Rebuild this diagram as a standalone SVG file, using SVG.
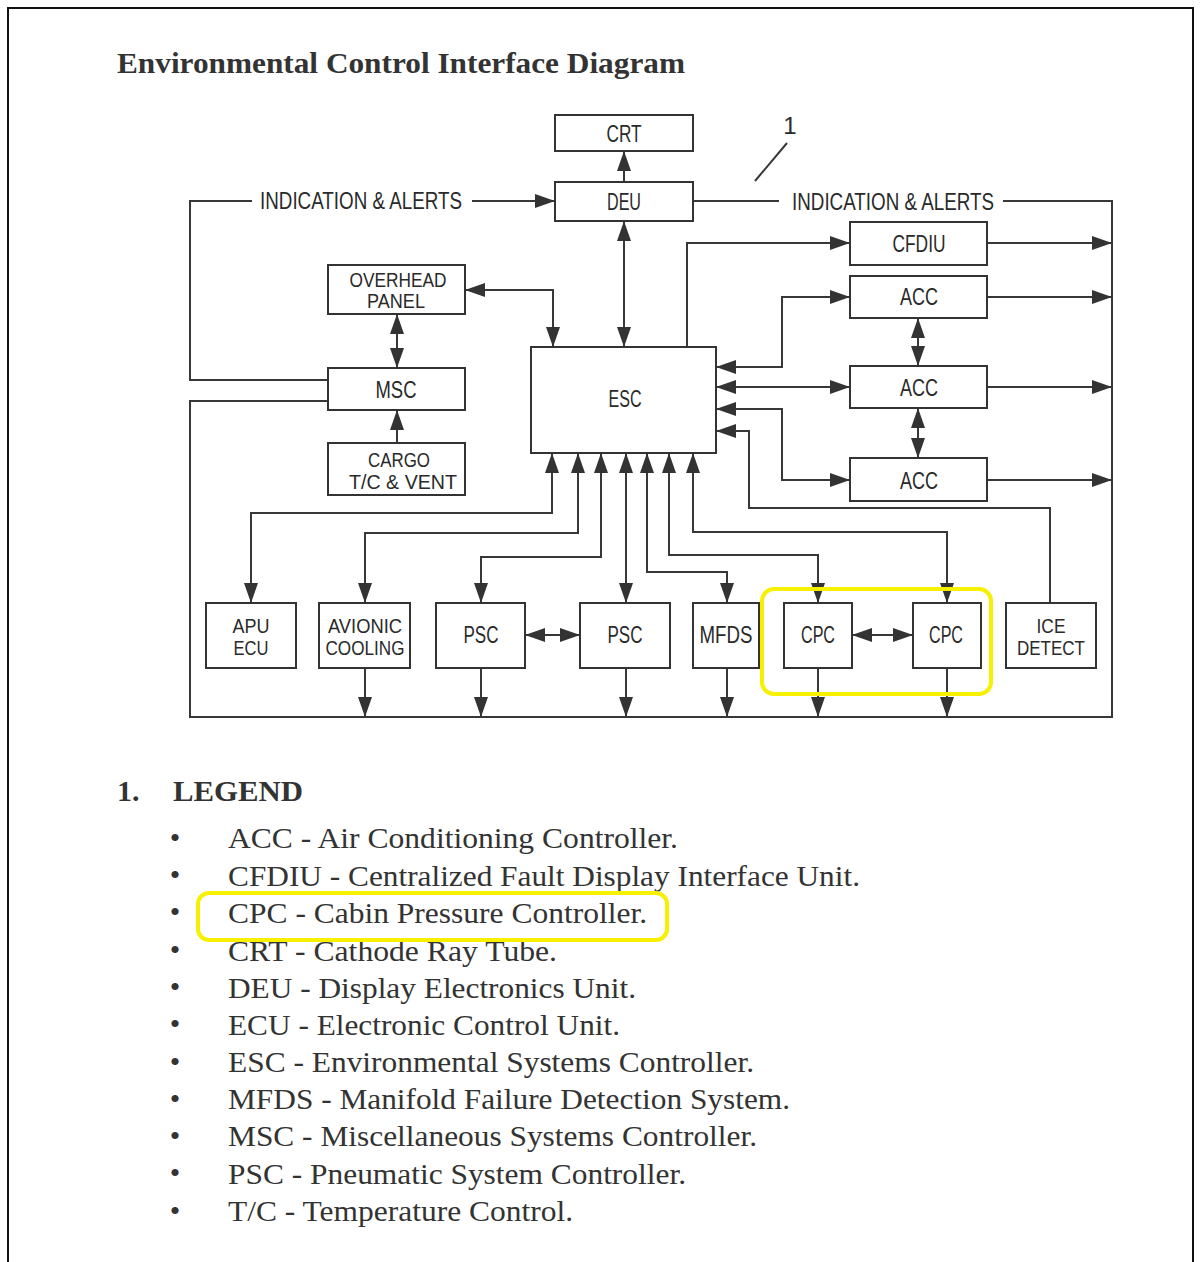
<svg xmlns="http://www.w3.org/2000/svg" width="1202" height="1262" viewBox="0 0 1202 1262">
<style>
.bg{fill:#ffffff}
.frame{fill:none;stroke:#111;stroke-width:2}
.box{fill:#ffffff;stroke:#333;stroke-width:2}
.ln{fill:none;stroke:#383838;stroke-width:2}
.lbl{font-family:"Liberation Sans",Arial,sans-serif;font-size:24px;fill:#2a2a2a;text-anchor:middle}
.two{font-size:21px}
.lbs{font-family:"Liberation Sans",Arial,sans-serif;font-size:24px;fill:#2a2a2a}
.title{font-family:"Liberation Serif","Times New Roman",serif;font-weight:bold;font-size:30px;fill:#333}
.leg{font-family:"Liberation Serif","Times New Roman",serif;font-size:30px;fill:#333}
.hl{fill:none;stroke:#F7F000;stroke-width:4}
</style>
<defs>
<marker id="ah" viewBox="0 0 20 14" refX="20" refY="7" markerWidth="20" markerHeight="14" markerUnits="userSpaceOnUse" orient="auto-start-reverse">
<path d="M0,0 L20,7 L0,14 z" fill="#333"/>
</marker>
</defs>
<rect class="bg" x="0" y="0" width="1202" height="1262"/>
<path class="frame" d="M8,1262 V8 H1193 V1262"/>
<text class="title" x="117" y="73" textLength="568" lengthAdjust="spacingAndGlyphs">Environmental Control Interface Diagram</text>

<g id="connectors">
<path class="ln" d="M624,182 V151" marker-end="url(#ah)"/>
<path class="ln" d="M328,380 H190 V201 H252"/>
<path class="ln" d="M472,201 H555" marker-end="url(#ah)"/>
<path class="ln" d="M328,401 H190 V717 H1112 V201 H1003"/>
<path class="ln" d="M693,201 H779"/>
<path class="ln" d="M755,181 L787,143"/>
<path class="ln" d="M624,221 V347" marker-start="url(#ah)" marker-end="url(#ah)"/>
<path class="ln" d="M553,347 V290 H465" marker-start="url(#ah)" marker-end="url(#ah)"/>
<path class="ln" d="M397,314 V368" marker-start="url(#ah)" marker-end="url(#ah)"/>
<path class="ln" d="M397,443 V410" marker-end="url(#ah)"/>
<path class="ln" d="M687,347 V243 H850" marker-end="url(#ah)"/>
<path class="ln" d="M716,367 H782 V297 H850" marker-start="url(#ah)" marker-end="url(#ah)"/>
<path class="ln" d="M716,387 H850" marker-start="url(#ah)" marker-end="url(#ah)"/>
<path class="ln" d="M716,409 H782 V480 H850" marker-start="url(#ah)" marker-end="url(#ah)"/>
<path class="ln" d="M1050,603 V508 H749 V431 H716" marker-end="url(#ah)"/>
<path class="ln" d="M918,318 V366" marker-start="url(#ah)" marker-end="url(#ah)"/>
<path class="ln" d="M918,408 V458" marker-start="url(#ah)" marker-end="url(#ah)"/>
<path class="ln" d="M987,243 H1112" marker-end="url(#ah)"/>
<path class="ln" d="M987,297 H1112" marker-end="url(#ah)"/>
<path class="ln" d="M987,387 H1112" marker-end="url(#ah)"/>
<path class="ln" d="M987,480 H1112" marker-end="url(#ah)"/>
<path class="ln" d="M552,453 V513 H251 V603" marker-start="url(#ah)" marker-end="url(#ah)"/>
<path class="ln" d="M578,453 V533 H365 V603" marker-start="url(#ah)" marker-end="url(#ah)"/>
<path class="ln" d="M601,453 V557 H481 V603" marker-start="url(#ah)" marker-end="url(#ah)"/>
<path class="ln" d="M626,453 V603" marker-start="url(#ah)" marker-end="url(#ah)"/>
<path class="ln" d="M647,453 V572 H727 V603" marker-start="url(#ah)" marker-end="url(#ah)"/>
<path class="ln" d="M669,453 V555 H818 V603" marker-start="url(#ah)" marker-end="url(#ah)"/>
<path class="ln" d="M693,453 V532 H947 V603" marker-start="url(#ah)" marker-end="url(#ah)"/>
<path class="ln" d="M525,635 H580" marker-start="url(#ah)" marker-end="url(#ah)"/>
<path class="ln" d="M852,635 H913" marker-start="url(#ah)" marker-end="url(#ah)"/>
<path class="ln" d="M365,668 V717" marker-end="url(#ah)"/>
<path class="ln" d="M481,668 V717" marker-end="url(#ah)"/>
<path class="ln" d="M626,668 V717" marker-end="url(#ah)"/>
<path class="ln" d="M727,668 V717" marker-end="url(#ah)"/>
<path class="ln" d="M818,668 V717" marker-end="url(#ah)"/>
<path class="ln" d="M947,668 V717" marker-end="url(#ah)"/>
<text class="lbs" x="260" y="209" textLength="202" lengthAdjust="spacingAndGlyphs">INDICATION &amp; ALERTS</text>
<text class="lbs" x="792" y="210" textLength="202" lengthAdjust="spacingAndGlyphs">INDICATION &amp; ALERTS</text>
<text class="lbl" x="790" y="134" font-size="22">1</text>
</g>

<g id="crt"><rect class="box" x="555" y="115" width="138" height="36"/><text class="lbl" x="624" y="142" textLength="35" lengthAdjust="spacingAndGlyphs">CRT</text></g>
<g id="deu"><rect class="box" x="555" y="182" width="138" height="39"/><text class="lbl" x="624" y="210" textLength="34" lengthAdjust="spacingAndGlyphs">DEU</text></g>
<g id="overhead-panel"><rect class="box" x="328" y="265" width="137" height="49"/><text class="lbl two" x="398" y="287" textLength="97" lengthAdjust="spacingAndGlyphs">OVERHEAD</text><text class="lbl two" x="396" y="308" textLength="58" lengthAdjust="spacingAndGlyphs">PANEL</text></g>
<g id="msc"><rect class="box" x="328" y="368" width="137" height="42"/><text class="lbl" x="396" y="398" textLength="41" lengthAdjust="spacingAndGlyphs">MSC</text></g>
<g id="cargo"><rect class="box" x="328" y="443" width="137" height="52"/><text class="lbl two" x="399" y="467" textLength="62" lengthAdjust="spacingAndGlyphs">CARGO</text><text class="lbl two" x="403" y="489" textLength="108" lengthAdjust="spacingAndGlyphs">T/C &amp; VENT</text></g>
<g id="esc"><rect class="box" x="531" y="347" width="185" height="106"/><text class="lbl" x="625" y="407" font-size="21" textLength="33" lengthAdjust="spacingAndGlyphs">ESC</text></g>
<g id="cfdiu"><rect class="box" x="850" y="222" width="137" height="43"/><text class="lbl" x="919" y="252" textLength="53" lengthAdjust="spacingAndGlyphs">CFDIU</text></g>
<g id="acc1"><rect class="box" x="850" y="276" width="137" height="42"/><text class="lbl" x="919" y="305" textLength="38" lengthAdjust="spacingAndGlyphs">ACC</text></g>
<g id="acc2"><rect class="box" x="850" y="366" width="137" height="42"/><text class="lbl" x="919" y="396" textLength="38" lengthAdjust="spacingAndGlyphs">ACC</text></g>
<g id="acc3"><rect class="box" x="850" y="458" width="137" height="43"/><text class="lbl" x="919" y="489" textLength="38" lengthAdjust="spacingAndGlyphs">ACC</text></g>
<g id="apu-ecu"><rect class="box" x="206" y="603" width="90" height="65"/><text class="lbl two" x="251" y="633" textLength="37" lengthAdjust="spacingAndGlyphs">APU</text><text class="lbl two" x="251" y="655" textLength="35" lengthAdjust="spacingAndGlyphs">ECU</text></g>
<g id="avionic-cooling"><rect class="box" x="319" y="603" width="91" height="65"/><text class="lbl two" x="365" y="633" textLength="74" lengthAdjust="spacingAndGlyphs">AVIONIC</text><text class="lbl two" x="365" y="655" textLength="79" lengthAdjust="spacingAndGlyphs">COOLING</text></g>
<g id="psc1"><rect class="box" x="436" y="603" width="89" height="65"/><text class="lbl" x="481" y="643" textLength="35" lengthAdjust="spacingAndGlyphs">PSC</text></g>
<g id="psc2"><rect class="box" x="580" y="603" width="90" height="65"/><text class="lbl" x="625" y="643" textLength="35" lengthAdjust="spacingAndGlyphs">PSC</text></g>
<g id="mfds"><rect class="box" x="693" y="603" width="66" height="65"/><text class="lbl" x="726" y="643" textLength="53" lengthAdjust="spacingAndGlyphs">MFDS</text></g>
<g id="cpc1"><rect class="box" x="784" y="603" width="68" height="65"/><text class="lbl" x="818" y="643" textLength="34" lengthAdjust="spacingAndGlyphs">CPC</text></g>
<g id="cpc2"><rect class="box" x="913" y="603" width="68" height="65"/><text class="lbl" x="946" y="643" textLength="34" lengthAdjust="spacingAndGlyphs">CPC</text></g>
<g id="ice-detect"><rect class="box" x="1006" y="603" width="90" height="65"/><text class="lbl two" x="1051" y="633" textLength="29" lengthAdjust="spacingAndGlyphs">ICE</text><text class="lbl two" x="1051" y="655" textLength="68" lengthAdjust="spacingAndGlyphs">DETECT</text></g>

<g id="legend">
<text class="title" x="117" y="801">1.</text>
<text class="title" x="173" y="801" textLength="130" lengthAdjust="spacingAndGlyphs">LEGEND</text>
<g class="leg" text-anchor="middle">
<text x="175" y="848">•</text><text x="175" y="885">•</text><text x="175" y="922">•</text><text x="175" y="960">•</text><text x="175" y="997">•</text><text x="175" y="1034">•</text><text x="175" y="1072">•</text><text x="175" y="1109">•</text><text x="175" y="1146">•</text><text x="175" y="1183">•</text><text x="175" y="1221">•</text>
</g>
<text class="leg" x="228" y="848" textLength="450" lengthAdjust="spacingAndGlyphs">ACC - Air Conditioning Controller.</text>
<text class="leg" x="228" y="886" textLength="632" lengthAdjust="spacingAndGlyphs">CFDIU - Centralized Fault Display Interface Unit.</text>
<text class="leg" x="228" y="923" textLength="419" lengthAdjust="spacingAndGlyphs">CPC - Cabin Pressure Controller.</text>
<text class="leg" x="228" y="961" textLength="329" lengthAdjust="spacingAndGlyphs">CRT - Cathode Ray Tube.</text>
<text class="leg" x="228" y="998" textLength="408" lengthAdjust="spacingAndGlyphs">DEU - Display Electronics Unit.</text>
<text class="leg" x="228" y="1035" textLength="392" lengthAdjust="spacingAndGlyphs">ECU - Electronic Control Unit.</text>
<text class="leg" x="228" y="1072" textLength="526" lengthAdjust="spacingAndGlyphs">ESC - Environmental Systems Controller.</text>
<text class="leg" x="228" y="1109" textLength="562" lengthAdjust="spacingAndGlyphs">MFDS - Manifold Failure Detection System.</text>
<text class="leg" x="228" y="1146" textLength="529" lengthAdjust="spacingAndGlyphs">MSC - Miscellaneous Systems Controller.</text>
<text class="leg" x="228" y="1184" textLength="458" lengthAdjust="spacingAndGlyphs">PSC - Pneumatic System Controller.</text>
<text class="leg" x="228" y="1221" textLength="345" lengthAdjust="spacingAndGlyphs">T/C - Temperature Control.</text>
</g>

<g id="highlights">
<rect class="hl" x="762" y="589" width="229" height="105" rx="12"/>
<rect class="hl" x="198" y="893" width="469" height="47" rx="11"/>
</g>
</svg>
